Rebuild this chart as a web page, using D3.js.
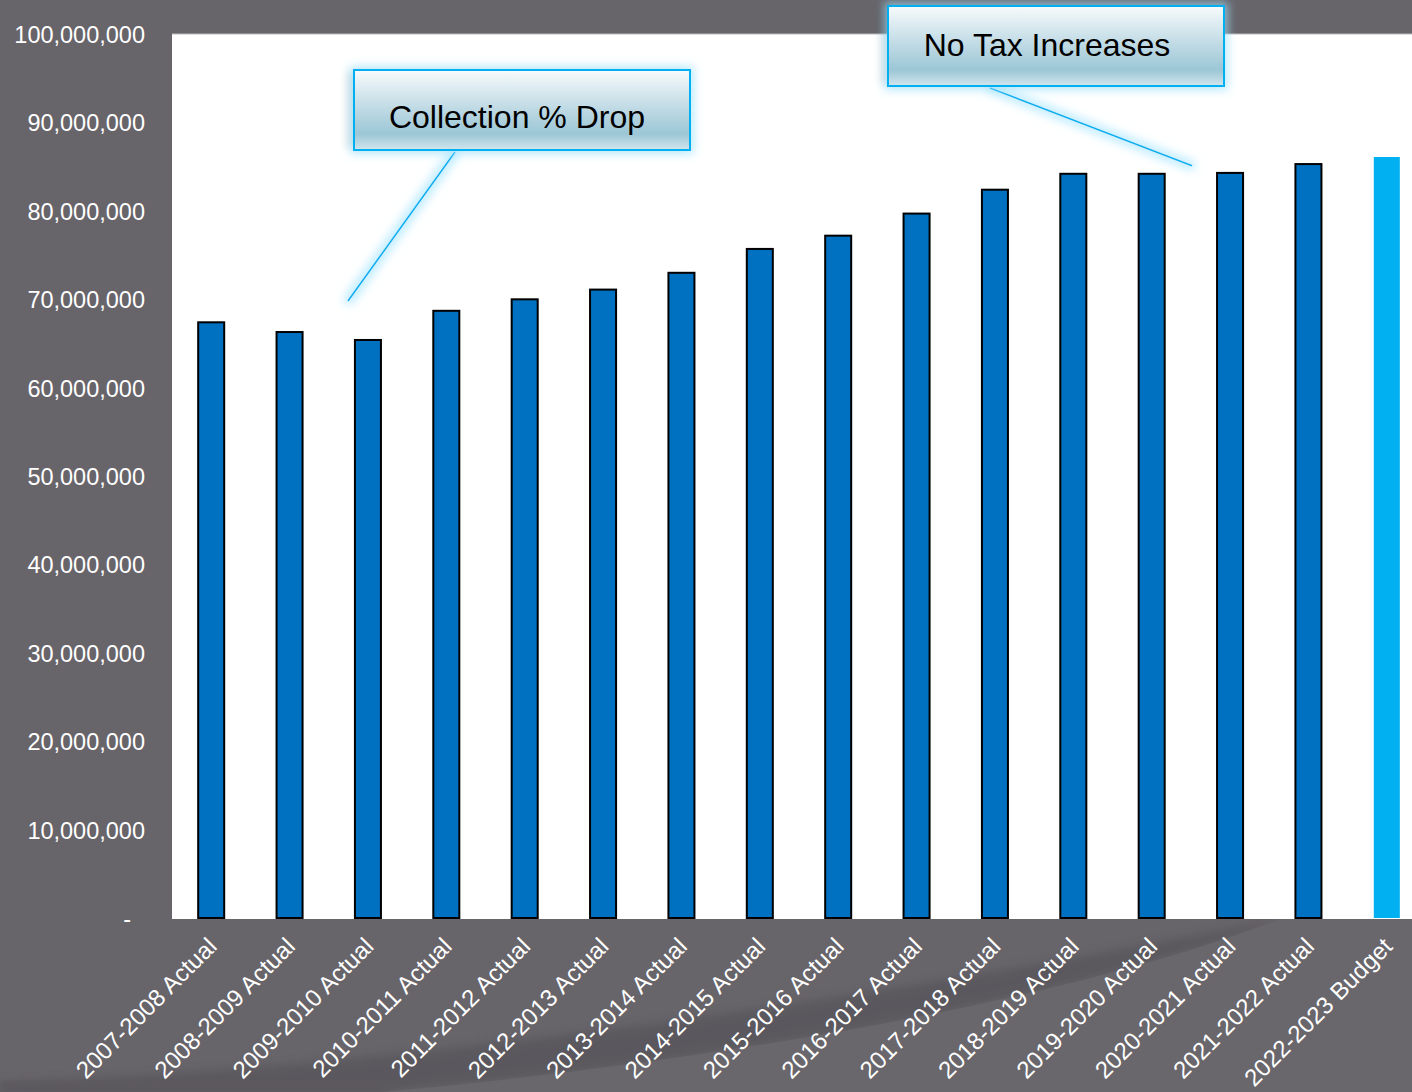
<!DOCTYPE html>
<html>
<head>
<meta charset="utf-8">
<script src="https://cdn.jsdelivr.net/npm/d3@7"></script>
<style>
  html, body { margin: 0; padding: 0; background: #67646a; }
  svg { display: block; font-family: "Liberation Sans", Arial, sans-serif; }
</style>
</head>
<body>
<svg id="chart"></svg>
<script>
// Revenue by fiscal year, actuals + current budget

const categories = [
  "2007-2008 Actual", "2008-2009 Actual", "2009-2010 Actual", "2010-2011 Actual",
  "2011-2012 Actual", "2012-2013 Actual", "2013-2014 Actual", "2014-2015 Actual",
  "2015-2016 Actual", "2016-2017 Actual", "2017-2018 Actual", "2018-2019 Actual",
  "2019-2020 Actual", "2020-2021 Actual", "2021-2022 Actual", "2022-2023 Budget"
];
const values = [
  67.5e6, 66.4e6, 65.5e6, 68.8e6, 70.1e6, 71.2e6, 73.1e6, 75.8e6,
  77.3e6, 79.8e6, 82.5e6, 84.3e6, 84.3e6, 84.4e6, 85.4e6, 86.2e6
];
const yTicks = [0, 10e6, 20e6, 30e6, 40e6, 50e6, 60e6, 70e6, 80e6, 90e6, 100e6];

// callouts: label text, and where its leader line points (category / value)
const calloutText = ["Collection % Drop", "No Tax Increases"];
const calloutCat = ["2009-2010 Actual", "2020-2021 Actual"];
const calloutVal = [69.9e6, 85.2e6];

const W = 1412, H = 1092;
const M = { top: 35, right: -14, bottom: 173, left: 172 };

const BG = "#67646a";
const BAR = "#0070c0";
const BUDGET = "#00b0f0";
const CYAN = "#00b0f0";

// box geometry for the two callouts (x, y, w, h, text x shift, baseline, leader start, leader dx)
const boxes = [
  { b: [354, 70, 336, 80], tdx: -5, base: 58, from: [455, 152], dx: -20 },
  { b: [888, 6, 336, 80], tdx: -9, base: 50, from: [990, 88], dx: -38 }
];

const svg = d3.select("#chart").attr("width", W).attr("height", H);
const defs = svg.append("defs");

// ---- background swoosh ----
const sw = defs.append("filter").attr("id", "soft").attr("x", "-10%").attr("y", "-50%").attr("width", "120%").attr("height", "200%");
sw.append("feGaussianBlur").attr("stdDeviation", 4);

const curve = "M1280,919 C1100,990 760,1058 380,1092";
svg.append("rect").attr("width", W).attr("height", H).attr("fill", BG);
svg.append("path")
  .attr("d", curve + " L0,1092 L0,1082 C300,1075 800,1015 1280,919 Z")
  .attr("fill", "#57545a").attr("opacity", 0.75).attr("filter", "url(#soft)");
svg.append("path")
  .attr("d", curve + " L1412,1092 L1412,919 Z")
  .attr("fill", "#69666c");
svg.append("rect").attr("x", 0).attr("y", 1084).attr("width", 390).attr("height", 8)
  .attr("fill", "#5b585e").attr("filter", "url(#soft)");

// ---- scales ----
const x = d3.scaleBand().domain(categories)
  .range([M.left, W - M.right])
  .paddingInner(0.668).paddingOuter(0.334);
const y = d3.scaleLinear().domain([0, 100e6]).range([919, 35]);

// plot area
svg.append("rect")
  .attr("x", M.left).attr("y", y(100e6) - 1)
  .attr("width", W - M.left).attr("height", y(0) - y(100e6) + 1)
  .attr("fill", "#ffffff");
svg.append("line")
  .attr("x1", M.left).attr("x2", W)
  .attr("y1", y(100e6) - 1).attr("y2", y(100e6) - 1)
  .attr("stroke", "#bdbcc0").attr("stroke-width", 1);

// ---- bars ----
svg.append("g").selectAll("rect")
  .data(categories.map((c, i) => ({ c, v: values[i], budget: c.includes("Budget") })))
  .join("rect")
  .attr("x", d => x(d.c))
  .attr("y", d => y(d.v))
  .attr("width", x.bandwidth())
  .attr("height", d => y(0) - y(d.v) - 1)
  .attr("fill", d => d.budget ? BUDGET : BAR)
  .attr("stroke", d => d.budget ? "none" : "#000")
  .attr("stroke-width", 2);

// ---- y axis ----
const yAxis = svg.append("g")
  .attr("transform", `translate(${M.left},0)`)
  .call(d3.axisLeft(y).tickValues(yTicks).tickSize(0).tickPadding(27)
    .tickFormat(d => d === 0 ? "-" : d3.format(",")(d)));
yAxis.select(".domain").remove();
yAxis.selectAll("text")
  .attr("fill", "#ffffff").attr("font-size", 23.5)
  .attr("font-family", "Liberation Sans, Arial, sans-serif")
  .attr("dx", d => d === 0 ? -14 : 0);

// ---- x axis ----
const xAxis = svg.append("g")
  .attr("transform", `translate(0,${y(0)})`)
  .call(d3.axisBottom(x).tickSize(0));
xAxis.select(".domain").remove();
xAxis.selectAll("text")
  .attr("fill", "#ffffff").attr("font-size", 24)
  .attr("font-family", "Liberation Sans, Arial, sans-serif")
  .attr("text-anchor", "end")
  .attr("x", 0).attr("y", 0).attr("dy", 0)
  .attr("transform", "translate(7,29) rotate(-45)");

// ---- callouts ----
const glow = defs.append("filter").attr("id", "glow")
  .attr("x", "-20%").attr("y", "-40%").attr("width", "140%").attr("height", "180%");
glow.append("feMorphology").attr("in", "SourceAlpha").attr("operator", "dilate").attr("radius", 3).attr("result", "d");
glow.append("feGaussianBlur").attr("in", "d").attr("stdDeviation", 5).attr("result", "b");
glow.append("feFlood").attr("flood-color", "#9fe3ff").attr("flood-opacity", 0.7);
glow.append("feComposite").attr("in2", "b").attr("operator", "in").attr("result", "g");
const gm = glow.append("feMerge");
gm.append("feMergeNode").attr("in", "g");
gm.append("feMergeNode").attr("in", "SourceGraphic");

const grad = defs.append("linearGradient").attr("id", "boxfill")
  .attr("x1", 0).attr("y1", 0).attr("x2", 0).attr("y2", 1);
grad.append("stop").attr("offset", "0%").attr("stop-color", "#f7fbfc");
grad.append("stop").attr("offset", "45%").attr("stop-color", "#c3dce6");
grad.append("stop").attr("offset", "80%").attr("stop-color", "#9cc6d6");
grad.append("stop").attr("offset", "100%").attr("stop-color", "#d2e6ee");

calloutText.forEach((t, i) => {
  const c = boxes[i];
  const [bx, by, bw, bh] = c.b;
  const tx = x(calloutCat[i]) + x.bandwidth() / 2 + c.dx;
  const ty = y(calloutVal[i]);
  svg.append("line")
    .attr("x1", c.from[0]).attr("y1", c.from[1])
    .attr("x2", tx).attr("y2", ty)
    .attr("stroke", CYAN).attr("stroke-width", 1.6)
    .attr("filter", "url(#glow)");
  // faint drop shadow on the left
  svg.append("rect")
    .attr("x", bx - 7).attr("y", by + 2).attr("width", bw).attr("height", bh - 4)
    .attr("fill", "#000").attr("opacity", 0.12).attr("filter", "url(#soft)");
  svg.append("rect")
    .attr("x", bx).attr("y", by).attr("width", bw).attr("height", bh)
    .attr("fill", "url(#boxfill)")
    .attr("stroke", CYAN).attr("stroke-width", 2)
    .attr("filter", "url(#glow)");
  svg.append("text")
    .attr("x", bx + bw / 2 + c.tdx).attr("y", by + c.base)
    .attr("text-anchor", "middle")
    .attr("font-size", 32)
    .attr("fill", "#000")
    .text(t);
});
</script>
</body>
</html>
